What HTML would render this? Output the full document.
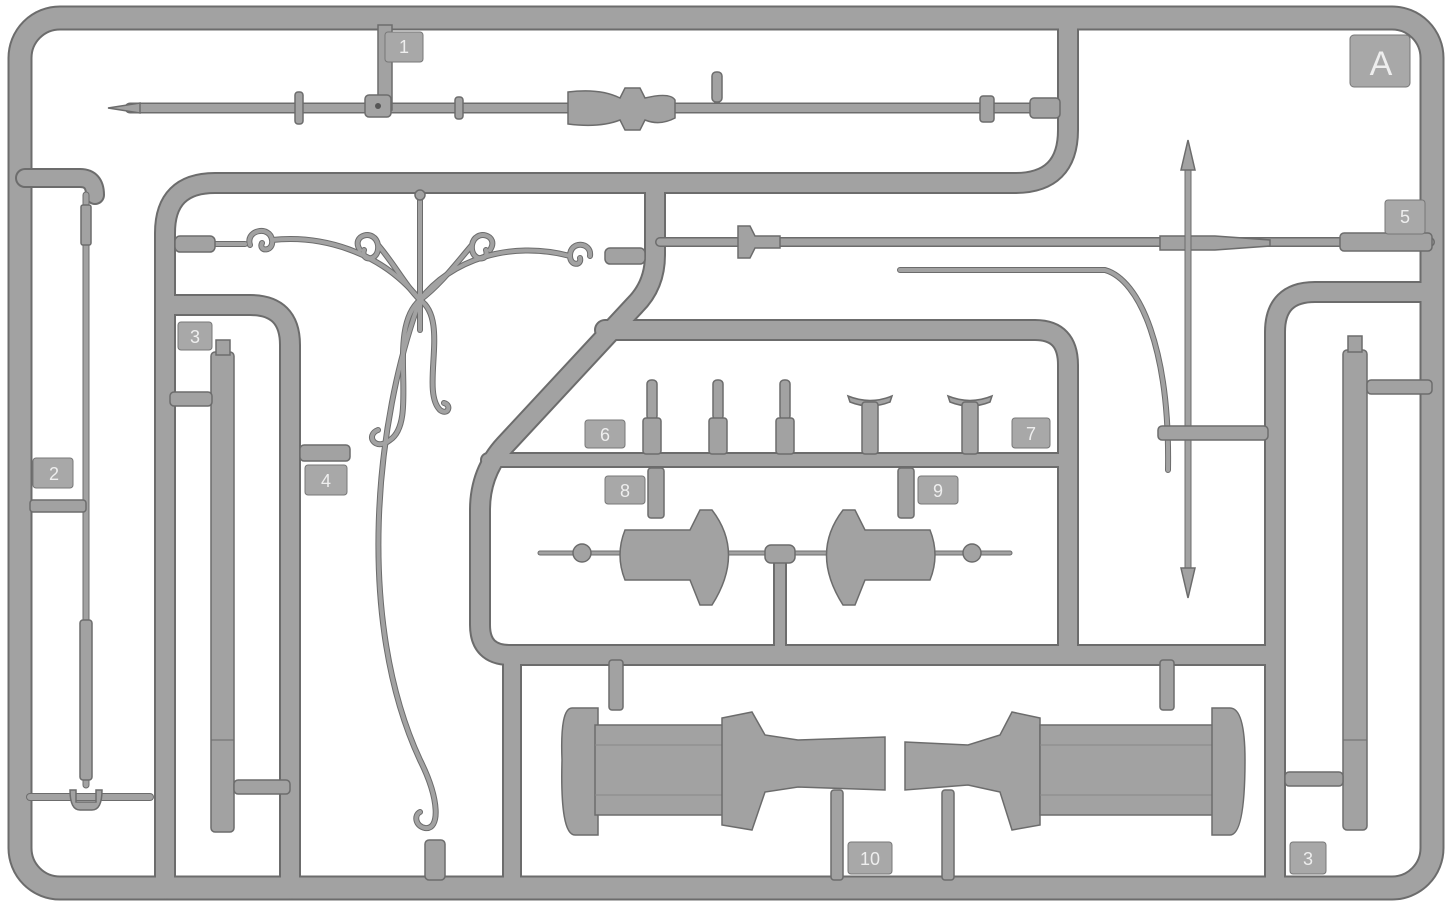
<!DOCTYPE html>
<html><head><style>
html,body{margin:0;padding:0;background:#fff;}
svg{display:block}
text{font-family:"Liberation Sans",sans-serif;fill:#eee;}
</style></head><body>
<svg width="1454" height="907" viewBox="0 0 1454 907" xmlns="http://www.w3.org/2000/svg">
<defs>
<style>
.o{fill:none;stroke:#6c6c6c;stroke-linecap:round;stroke-linejoin:round}
.i{fill:none;stroke:#a2a2a2;stroke-linecap:round;stroke-linejoin:round}
.s{fill:#a2a2a2;stroke:#6c6c6c;stroke-width:1.5}
</style>
</defs>
<rect x="20" y="18" width="1412" height="870" rx="40" class="o" stroke-width="25"/>
<path class="o" stroke-width="22" d="M1068,20 V130 Q1068,183 1015,183 H215 Q165,183 165,233 V888"/>
<path class="o" stroke-width="22" d="M655,183 V255 Q655,285 635,305 L505,445 Q480,472 480,510 V625 Q480,655 510,655 H1275"/>
<path class="o" stroke-width="22" d="M605,330 H1035 Q1068,330 1068,365 V655"/>
<path class="o" stroke-width="16" d="M488,460 H1068"/>
<path class="o" stroke-width="20" d="M512,655 V888"/>
<path class="o" stroke-width="14" d="M780,555 V648"/>
<path class="o" stroke-width="22" d="M1432,292 H1315 Q1275,292 1275,332 V888"/>
<path class="o" stroke-width="22" d="M165,305 H250 Q290,305 290,345 V888"/>
<rect x="20" y="18" width="1412" height="870" rx="40" class="i" stroke-width="21"/>
<path class="i" stroke-width="18" d="M1068,20 V130 Q1068,183 1015,183 H215 Q165,183 165,233 V888"/>
<path class="i" stroke-width="18" d="M655,183 V255 Q655,285 635,305 L505,445 Q480,472 480,510 V625 Q480,655 510,655 H1275"/>
<path class="i" stroke-width="18" d="M605,330 H1035 Q1068,330 1068,365 V655"/>
<path class="i" stroke-width="12" d="M488,460 H1068"/>
<path class="i" stroke-width="16" d="M512,655 V888"/>
<path class="i" stroke-width="10" d="M780,555 V648"/>
<path class="i" stroke-width="18" d="M1432,292 H1315 Q1275,292 1275,332 V888"/>
<path class="i" stroke-width="18" d="M165,305 H250 Q290,305 290,345 V888"/>

<g>
<path class="o" stroke-width="11" d="M130,108 H1055"/>
<path class="i" stroke-width="8" d="M130,108 H1055"/>
<path class="s" d="M108,108 L140,103 L140,113 Z"/>
<rect class="s" x="378" y="25" width="14" height="85"/>
<rect class="s" x="365" y="95" width="26" height="22" rx="4"/>
<circle cx="378" cy="106" r="3" fill="#555"/>
<rect class="s" x="295" y="92" width="8" height="32" rx="3"/>
<rect class="s" x="455" y="97" width="8" height="22" rx="3"/>
<path class="s" d="M568,92 Q600,88 620,98 L625,88 L640,88 L645,98 Q670,92 675,100 L675,118 Q660,126 645,120 L640,130 L625,130 L620,120 Q600,128 568,124 Z"/>
<rect class="s" x="712" y="72" width="10" height="30" rx="4"/>
<rect class="s" x="980" y="96" width="14" height="26" rx="3"/>
<rect class="s" x="1030" y="98" width="30" height="20" rx="4"/>
<path class="o" stroke-width="20" d="M25,178 H80 Q95,178 95,195"/>
<path class="i" stroke-width="16" d="M25,178 H80 Q95,178 95,195"/>
<path class="o" stroke-width="7" d="M86,195 V785"/>
<path class="i" stroke-width="5" d="M86,195 V785"/>
<rect class="s" x="81" y="205" width="10" height="40" rx="2"/>
<rect class="s" x="80" y="620" width="12" height="160" rx="3"/>
<path class="o" stroke-width="8" d="M30,797 H150"/>
<path class="i" stroke-width="6" d="M30,797 H150"/>
<path class="s" d="M70,790 Q70,810 80,810 L92,810 Q102,810 102,790 L96,790 L96,802 L76,802 L76,790 Z"/>
<rect class="s" x="30" y="500" width="56" height="12" rx="3"/>
<g fill="none" stroke="#6c6c6c" stroke-width="6" stroke-linecap="round">
<path d="M420,195 V330"/>
<path d="M215,244 H245"/>
<path d="M250,245 C245,230 270,225 272,240 C274,252 258,252 262,243 M272,240 C320,235 380,250 420,300"/>
<path d="M590,256 C592,242 570,240 570,256 C570,266 582,266 580,258 M570,256 C510,240 450,260 420,300"/>
<path d="M360,250 C350,235 375,228 378,245 C380,262 360,262 364,250 M378,245 C395,265 405,285 420,300"/>
<path d="M490,250 C500,235 475,228 472,245 C470,262 490,262 486,250 M472,245 C455,265 440,285 420,300"/>
<path d="M420,300 C385,330 420,420 390,440 C375,452 365,435 378,430"/>
<path d="M420,300 C450,320 420,390 440,410 C448,416 452,405 444,403"/>
<path d="M420,300 C375,420 355,620 420,760 C440,800 440,830 425,828 C415,826 414,815 420,812"/>
</g>
<g fill="none" stroke="#a2a2a2" stroke-width="4" stroke-linecap="round">
<path d="M420,195 V330"/>
<path d="M215,244 H245"/>
<path d="M250,245 C245,230 270,225 272,240 C274,252 258,252 262,243 M272,240 C320,235 380,250 420,300"/>
<path d="M590,256 C592,242 570,240 570,256 C570,266 582,266 580,258 M570,256 C510,240 450,260 420,300"/>
<path d="M360,250 C350,235 375,228 378,245 C380,262 360,262 364,250 M378,245 C395,265 405,285 420,300"/>
<path d="M490,250 C500,235 475,228 472,245 C470,262 490,262 486,250 M472,245 C455,265 440,285 420,300"/>
<path d="M420,300 C385,330 420,420 390,440 C375,452 365,435 378,430"/>
<path d="M420,300 C450,320 420,390 440,410 C448,416 452,405 444,403"/>
<path d="M420,300 C375,420 355,620 420,760 C440,800 440,830 425,828 C415,826 414,815 420,812"/>
</g>
<circle class="s" cx="420" cy="195" r="5"/>
<rect class="s" x="175" y="236" width="40" height="16" rx="5"/>
<rect class="s" x="605" y="248" width="40" height="16" rx="5"/>
<rect class="s" x="425" y="840" width="20" height="40" rx="4"/>
<rect class="s" x="300" y="445" width="50" height="16" rx="4"/>
<rect class="s" x="211" y="352" width="23" height="480" rx="4"/>
<rect class="s" x="216" y="340" width="14" height="15"/>
<rect class="s" x="170" y="392" width="42" height="14" rx="4"/>
<rect class="s" x="234" y="780" width="56" height="14" rx="4"/>
<line x1="211" y1="740" x2="234" y2="740" stroke="#6c6c6c"/>
<rect class="s" x="1343" y="350" width="24" height="480" rx="4"/>
<rect class="s" x="1348" y="336" width="14" height="16"/>
<rect class="s" x="1367" y="380" width="65" height="14" rx="4"/>
<rect class="s" x="1285" y="772" width="58" height="14" rx="4"/>
<line x1="1343" y1="740" x2="1367" y2="740" stroke="#6c6c6c"/>
<path class="o" stroke-width="10" d="M660,242 H1430"/>
<path class="i" stroke-width="7" d="M660,242 H1430"/>
<path class="s" d="M738,226 L750,226 L755,236 H780 V248 H755 L750,258 L738,258 Z"/>
<path class="s" d="M1160,236 H1215 L1270,240 V246 L1215,250 H1160 Z"/>
<rect class="s" x="1340" y="233" width="92" height="18" rx="4"/>
<path class="o" stroke-width="7" d="M1188,155 V585"/>
<path class="i" stroke-width="5" d="M1188,155 V585"/>
<path class="s" d="M1188,140 L1195,170 L1181,170 Z"/>
<path class="s" d="M1188,598 L1195,568 L1181,568 Z"/>
<path class="o" stroke-width="6" d="M900,270 H1105 C1140,280 1170,350 1168,470"/>
<path class="i" stroke-width="4" d="M900,270 H1105 C1140,280 1170,350 1168,470"/>
<rect class="s" x="1158" y="426" width="110" height="14" rx="4"/>
<rect class="s" x="647" y="380" width="10" height="40" rx="4"/>
<rect class="s" x="643" y="418" width="18" height="36" rx="3"/>
<rect class="s" x="713" y="380" width="10" height="40" rx="4"/>
<rect class="s" x="709" y="418" width="18" height="36" rx="3"/>
<rect class="s" x="780" y="380" width="10" height="40" rx="4"/>
<rect class="s" x="776" y="418" width="18" height="36" rx="3"/>
<path class="s" d="M848,396 Q870,405 892,396 L890,402 Q870,410 850,402 Z"/>
<rect class="s" x="862" y="402" width="16" height="52" rx="3"/>
<path class="s" d="M948,396 Q970,405 992,396 L990,402 Q970,410 950,402 Z"/>
<rect class="s" x="962" y="402" width="16" height="52" rx="3"/>
<rect class="s" x="648" y="468" width="16" height="50" rx="3"/>
<rect class="s" x="898" y="468" width="16" height="50" rx="3"/>
<path class="o" stroke-width="5" d="M540,553 H1010"/>
<path class="i" stroke-width="3" d="M540,553 H1010"/>
<circle class="s" cx="582" cy="553" r="9"/>
<circle class="s" cx="972" cy="553" r="9"/>
<path class="s" d="M625,530 H690 L700,510 L712,510 Q745,553 712,605 L700,605 L690,580 H625 Q615,555 625,530 Z"/>
<path class="s" d="M930,530 H865 L855,510 L843,510 Q810,553 843,605 L855,605 L865,580 H930 Q940,555 930,530 Z"/>
<rect class="s" x="765" y="545" width="30" height="18" rx="6"/>
<rect class="s" x="609" y="660" width="14" height="50" rx="3"/>
<rect class="s" x="1160" y="660" width="14" height="50" rx="3"/>
<path class="s" d="M572,708 Q560,708 562,760 Q560,835 575,835 L598,835 L598,708 Z"/>
<rect class="s" x="595" y="725" width="130" height="90"/>
<line x1="595" y1="745" x2="725" y2="745" stroke="#888"/>
<line x1="595" y1="795" x2="725" y2="795" stroke="#888"/>
<path class="s" d="M722,718 L752,712 L765,735 L798,740 L885,737 V790 L798,787 L765,792 L752,830 L722,825 Z"/>
<path class="s" d="M905,742 L968,745 L1000,735 L1012,712 L1040,718 V825 L1012,830 L1000,792 L968,785 L905,790 Z"/>
<rect class="s" x="1040" y="725" width="175" height="90"/>
<line x1="1040" y1="745" x2="1215" y2="745" stroke="#888"/>
<line x1="1040" y1="795" x2="1215" y2="795" stroke="#888"/>
<path class="s" d="M1212,708 L1230,708 Q1245,708 1245,760 Q1245,835 1230,835 L1212,835 Z"/>
<rect class="s" x="831" y="790" width="12" height="90" rx="3"/>
<rect class="s" x="942" y="790" width="12" height="90" rx="3"/>
</g>

<g fill="#a8a8a8" stroke="#777" stroke-width="1">
<rect x="385" y="32" width="38" height="30" rx="3"/>
<rect x="33" y="458" width="40" height="30" rx="3"/>
<rect x="178" y="322" width="34" height="28" rx="3"/>
<rect x="305" y="465" width="42" height="30" rx="3"/>
<rect x="1385" y="200" width="40" height="34" rx="3"/>
<rect x="585" y="420" width="40" height="28" rx="3"/>
<rect x="1012" y="418" width="38" height="30" rx="3"/>
<rect x="605" y="476" width="40" height="28" rx="3"/>
<rect x="918" y="476" width="40" height="28" rx="3"/>
<rect x="848" y="842" width="44" height="32" rx="3"/>
<rect x="1290" y="842" width="36" height="32" rx="3"/>
<rect x="1350" y="35" width="60" height="52" rx="4"/>
</g>
<g font-size="18" text-anchor="middle">
<text x="404" y="53">1</text>
<text x="54" y="480">2</text>
<text x="195" y="343">3</text>
<text x="326" y="487">4</text>
<text x="1405" y="223">5</text>
<text x="605" y="441">6</text>
<text x="1031" y="440">7</text>
<text x="625" y="497">8</text>
<text x="938" y="497">9</text>
<text x="870" y="865">10</text>
<text x="1308" y="865">3</text>
<text x="1381" y="75" font-size="34">A</text>
</g>
</svg>
</body></html>
